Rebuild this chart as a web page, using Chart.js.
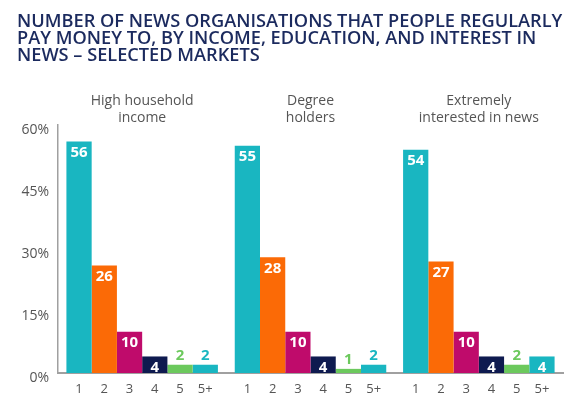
<!DOCTYPE html>
<html>
<head>
<meta charset="utf-8">
<script src="https://cdn.jsdelivr.net/npm/chart.js@4.4.1/dist/chart.umd.min.js"></script>
<style>
html,body{margin:0;padding:0;background:#fff;}
#wrap{width:580px;height:407px;position:relative;}
</style>
</head>
<body>
<div id="wrap"><canvas id="c" width="580" height="407"></canvas></div>
<script>
const titleLines = ["NUMBER OF NEWS ORGANISATIONS THAT PEOPLE REGULARLY","PAY MONEY TO, BY INCOME, EDUCATION, AND INTEREST IN","NEWS \u2013 SELECTED MARKETS"];
const panels = [["High household","income"],["Degree","holders"],["Extremely","interested in news"]];
const seriesNames = ["1","2","3","4","5","5+"];
const s1 = [56,55,54];
const s2 = [26,28,27];
const s3 = [10,10,10];
const s4 = [4,4,4];
const s5 = [2,1,2];
const s5p = [2,2,4];
const yTicks = [0,15,30,45,60];
const colors = ["#19b6c1","#fb6a06","#bf0b6b","#0e1a4f","#6cc95d","#19b6c1"];

const seriesValues = [s1,s2,s3,s4,s5,s5p];
const datasets = seriesNames.map((n,i)=>({
  label:n, data:seriesValues[i], backgroundColor:colors[i], borderWidth:0,
  categoryPercentage:0.9, barPercentage:1.0
}));

const FONT = "'Open Sans', sans-serif";

const labelPlugin = {
  id:'barLabels',
  afterDatasetsDraw(chart){
    const ctx = chart.ctx;
    ctx.save();
    chart.data.datasets.forEach((ds,di)=>{
      const meta = chart.getDatasetMeta(di);
      meta.data.forEach((bar,i)=>{
        const v = ds.data[i];
        ctx.textAlign='center';
        ctx.textBaseline='middle';
        ctx.font = "700 15px " + FONT;
        if (v >= 4){
          ctx.fillStyle='#ffffff';
          ctx.fillText(String(v), bar.x, bar.y + 11);
        } else {
          ctx.fillStyle=ds.backgroundColor;
          ctx.fillText(String(v), bar.x, bar.y - 9);
        }
        ctx.font = "400 13px " + FONT;
        ctx.fillStyle='#555555';
        ctx.fillText(ds.label, bar.x, chart.chartArea.bottom + 16);
      });
    });
    ctx.restore();
  }
};

new Chart(document.getElementById('c'),{
  type:'bar',
  data:{labels:panels, datasets:datasets},
  plugins:[labelPlugin],
  options:{
    responsive:false,
    animation:false,
    devicePixelRatio:1,
    layout:{padding:{left:17,right:17,top:0,bottom:34}},
    plugins:{
      legend:{display:false},
      tooltip:{enabled:false},
      title:{
        display:true, text:titleLines, align:'start', color:'#1b2a5e',
        font:{family:FONT, size:18.2, weight:'600', lineHeight:0.934},
        padding:{top:13,bottom:16}
      }
    },
    scales:{
      x:{
        position:'bottom',
        grid:{display:false, drawTicks:false},
        border:{display:true, color:'#a0a0a0', width:2},
        ticks:{display:false}
      },
      x2:{
        type:'category', position:'top', offset:true,
        labels:panels,
        afterFit(scale){ scale.height = 45; },
        grid:{display:false, drawTicks:false},
        border:{display:false},
        ticks:{color:'#555555', font:{family:FONT, size:14, lineHeight:1.2}, padding:-1, maxRotation:0, autoSkip:false}
      },
      y:{
        min:0, max:60,
        afterFit(scale){ scale.width = 41; },
        afterBuildTicks(scale){ scale.ticks = yTicks.map(v=>({value:v})); },
        grid:{display:false, drawTicks:false},
        border:{display:true, color:'#a0a0a0', width:1.5},
        ticks:{color:'#555555', font:{family:FONT, size:14}, padding:9, labelOffset:5, callback:(v)=>v+'%'}
      }
    }
  }
});
</script>
</body>
</html>
